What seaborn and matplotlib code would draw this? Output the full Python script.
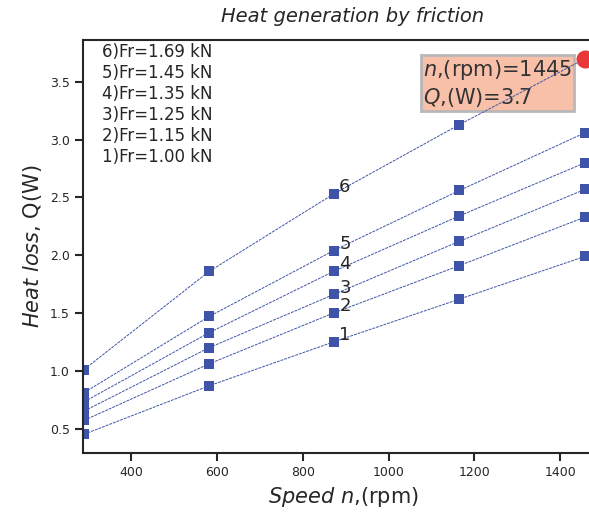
import matplotlib
matplotlib.use("Agg")
import matplotlib.pyplot as plt
import seaborn as sns
import pandas as pd

speed = [290, 582, 872, 1165, 1458]
q1 = [0.45, 0.87, 1.25, 1.62, 1.99]
q2 = [0.57, 1.06, 1.50, 1.91, 2.33]
q3 = [0.65, 1.20, 1.66, 2.12, 2.57]
q4 = [0.73, 1.33, 1.86, 2.34, 2.80]
q5 = [0.81, 1.47, 2.04, 2.56, 3.06]
q6 = [1.01, 1.86, 2.53, 3.13, 3.70]
series = [q1, q2, q3, q4, q5, q6]
labels = ["1", "2", "3", "4", "5", "6"]
forces = ["1.00", "1.15", "1.25", "1.35", "1.45", "1.69"]

sns.set_theme(style="ticks", context="notebook")
plt.rcParams["font.family"] = ["DejaVu Sans"]

blue = "#3f54a8"
fig = plt.figure(figsize=(5.89, 5.19), dpi=100)
ax = fig.add_axes([0.141, 0.127, 0.883, 0.796])

for lab, q in zip(labels, series):
    df = pd.DataFrame({"speed": speed, "q": q})
    sns.lineplot(data=df, x="speed", y="q", ax=ax, color=blue, marker="s",
                 markersize=6.5, markeredgewidth=0, linestyle="--",
                 linewidth=0.7, dashes=False, clip_on=True)
    ax.lines[-1].set_linestyle((0, (3, 1)))
    ax.annotate(lab, (speed[2], q[2]), xytext=(4, 5), textcoords="offset points",
                fontsize=13, va="center", ha="left", color=".15")

# highlighted point
ax.plot(speed[-1], q6[-1], "o", color="#e8383a", markersize=12, clip_on=False, zorder=5)
ax.text(1080, 3.265, "$n$,(rpm)=1445\n$Q$,(W)=3.7", fontsize=15, color=".2",
        va="bottom", ha="left", zorder=1,
        bbox=dict(boxstyle="square,pad=0.1", facecolor="#f9c0a9",
                  edgecolor="#b8b8b8", linewidth=2))

legend_txt = "\n".join(f"{i})Fr={f} kN" for i, f in zip(range(6, 0, -1), forces[::-1]))
ax.text(0.036, 0.993, legend_txt, transform=ax.transAxes, fontsize=12,
        va="top", ha="left", color=".15", linespacing=1.22)

ax.set_xlim(288, 1500)
ax.set_ylim(0.2875, 3.8625)
ax.set_xticks([400, 600, 800, 1000, 1200, 1400])
ax.set_yticks([0.5, 1.0, 1.5, 2.0, 2.5, 3.0, 3.5])
ax.tick_params(labelsize=9, width=1.5, length=6)
for s in ax.spines.values():
    s.set_linewidth(1.5)
ax.spines["right"].set_visible(False)

ax.set_xlabel("$Speed\\ n$,(rpm)", fontsize=15)
ax.set_ylabel("$Heat\\ loss$, Q(W)", fontsize=15)
ax.set_title("Heat generation by friction", fontsize=14, fontstyle="italic", pad=13, x=0.518)

fig.savefig("out.png", dpi=100)
